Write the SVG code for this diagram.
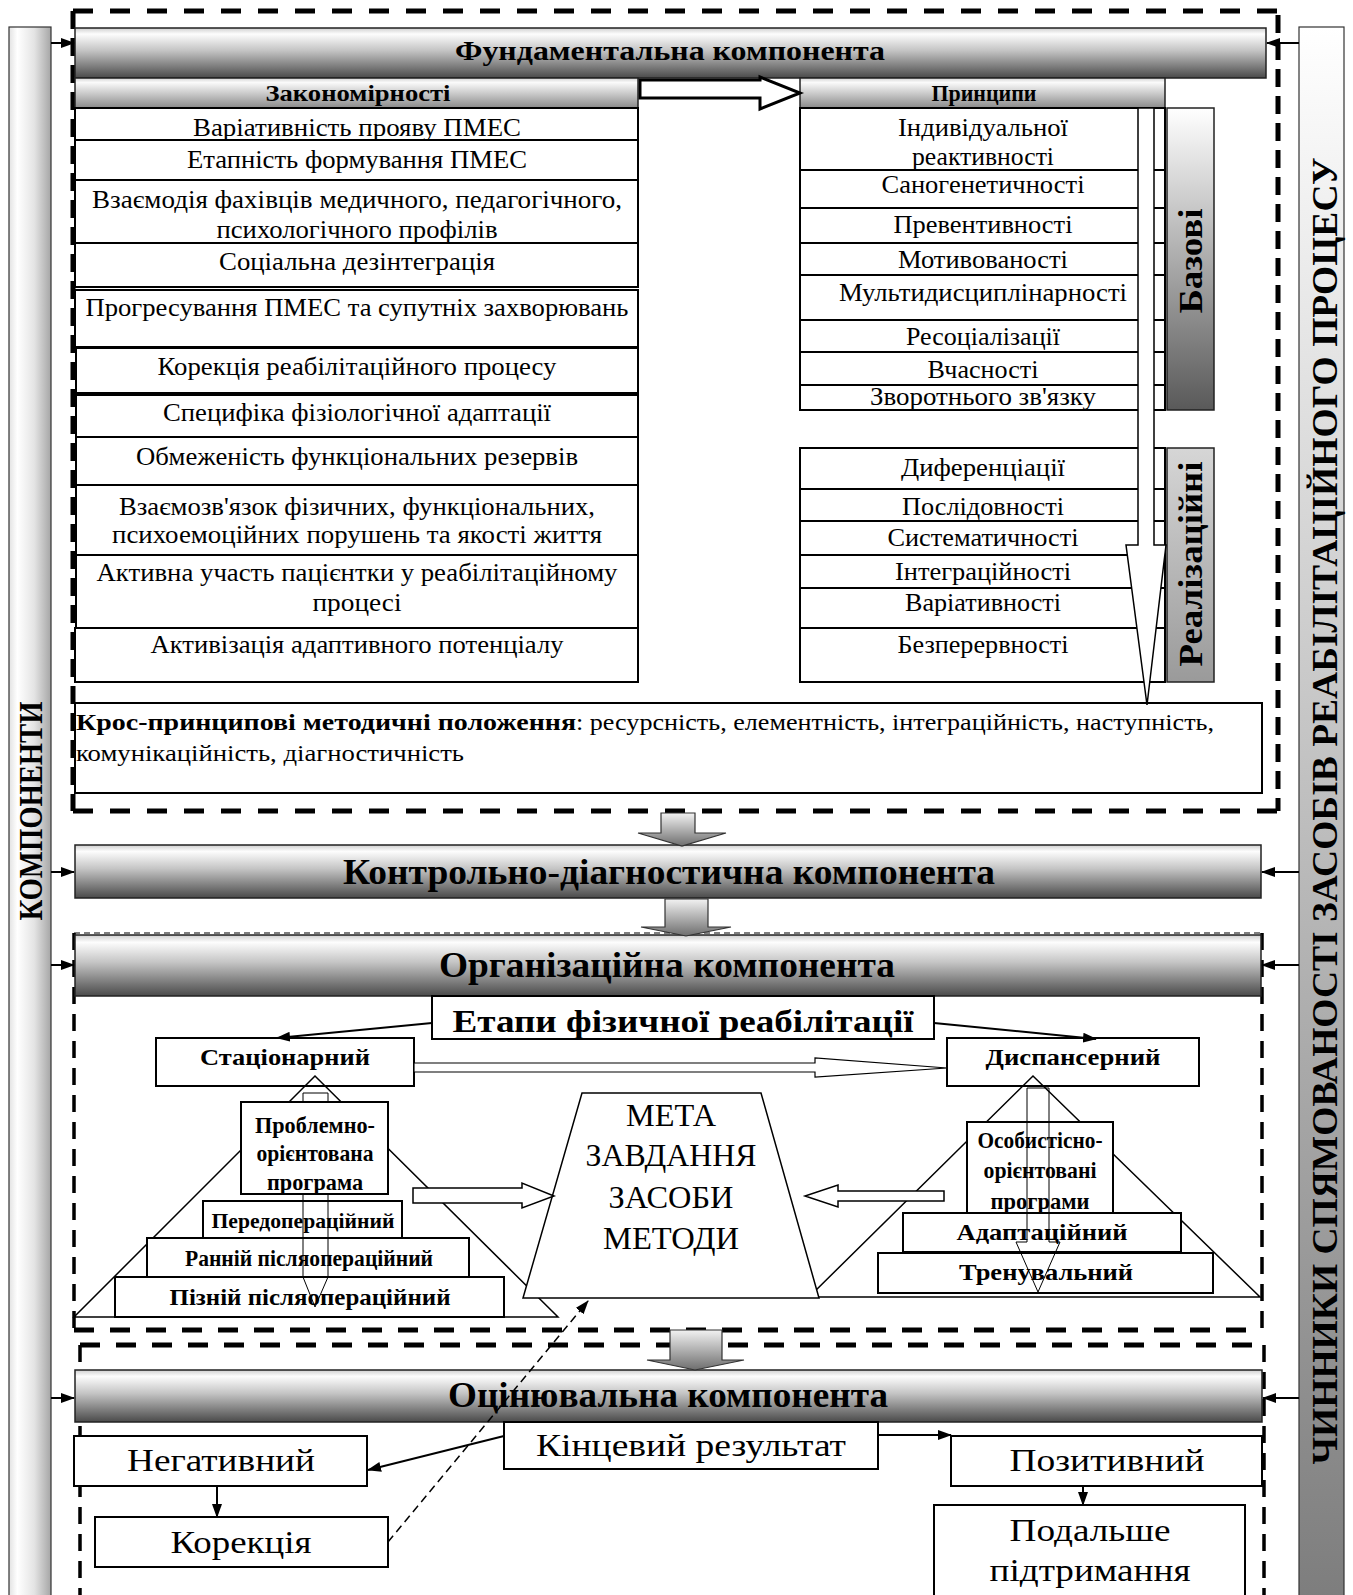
<svg xmlns="http://www.w3.org/2000/svg" width="1353" height="1595" viewBox="0 0 1353 1595">
<defs>
<linearGradient id="hdr" x1="0" y1="0" x2="0" y2="1"><stop offset="0" stop-color="#cfcfcf"/><stop offset="0.12" stop-color="#fdfdfd"/><stop offset="0.45" stop-color="#c4c4c4"/><stop offset="1" stop-color="#4a4a4a"/></linearGradient>
<linearGradient id="sub" x1="0" y1="0" x2="0" y2="1"><stop offset="0" stop-color="#d5d5d5"/><stop offset="0.15" stop-color="#fafafa"/><stop offset="1" stop-color="#8a8a8a"/></linearGradient>
<linearGradient id="baz" x1="0" y1="0" x2="0" y2="1"><stop offset="0" stop-color="#ffffff"/><stop offset="1" stop-color="#595959"/></linearGradient>
<linearGradient id="real" x1="0" y1="0" x2="0" y2="1"><stop offset="0" stop-color="#d6d6d6"/><stop offset="1" stop-color="#9a9a9a"/></linearGradient>
<linearGradient id="lbar" x1="0" y1="0" x2="1" y2="0"><stop offset="0" stop-color="#e2e2e2"/><stop offset="0.2" stop-color="#ffffff"/><stop offset="0.6" stop-color="#e4e4e4"/><stop offset="1" stop-color="#a6a6a6"/></linearGradient>
<linearGradient id="rbar" x1="0" y1="0" x2="0" y2="1"><stop offset="0" stop-color="#ffffff"/><stop offset="1" stop-color="#7d7d7d"/></linearGradient>
<linearGradient id="blk" x1="0" y1="0" x2="0" y2="1"><stop offset="0" stop-color="#f2f2f2"/><stop offset="1" stop-color="#6e6e6e"/></linearGradient>
<marker id="ah" markerWidth="14" markerHeight="10" refX="13" refY="5" orient="auto" markerUnits="userSpaceOnUse"><path d="M0,0 L14,5 L0,10 z" fill="#000"/></marker>
</defs>
<style>
.t{font-family:"Liberation Serif","Times New Roman","DejaVu Serif",serif;fill:#000;text-anchor:middle}
.l{text-anchor:start}
.b{font-weight:bold}
.f25{font-size:25px}
.f24{font-size:24px}
.f22{font-size:22px}
.f32{font-size:32px}
.f36{font-size:36px}
.box{fill:#fff;stroke:#000;stroke-width:2}
.hd{fill:url(#hdr);stroke:#222;stroke-width:1.5}
.sh{fill:url(#sub);stroke:#222;stroke-width:1.5}
.ln{fill:none;stroke:#000;stroke-width:1.5}
.thin{fill:none;stroke:#000;stroke-width:1}
.dk{fill:none;stroke:#000;stroke-width:5}
.dm{fill:none;stroke:#000;stroke-width:3.5}
.hol{fill:#fff;stroke:#000;stroke-width:1.5}
.con{fill:none;stroke:#000;stroke-width:2}
</style>

<g id="frames">
<line class="dk" x1="73" y1="11" x2="1278" y2="11" stroke-dasharray="20 17"/>
<line class="dk" x1="73" y1="11" x2="73" y2="811" stroke-dasharray="18 9"/>
<line class="dk" x1="1278" y1="15" x2="1278" y2="811" stroke-dasharray="18 9"/>
<line class="dk" x1="73" y1="811" x2="1278" y2="811" stroke-dasharray="20 17"/>
<line class="thin" x1="74" y1="933" x2="1262" y2="933" stroke-dasharray="6 4" stroke-width="2"/>
<line class="dm" x1="74" y1="933" x2="74" y2="1330" stroke-dasharray="17 10"/>
<line class="dm" x1="1262" y1="933" x2="1262" y2="1330" stroke-dasharray="17 10"/>
<line class="dk" x1="74" y1="1330" x2="1262" y2="1330" stroke-dasharray="20 16"/>
<line class="dk" x1="80" y1="1345" x2="1264" y2="1345" stroke-dasharray="20 16"/>
<line class="dm" x1="80" y1="1345" x2="80" y2="1595" stroke-dasharray="17 10"/>
<line class="dm" x1="1264" y1="1345" x2="1264" y2="1595" stroke-dasharray="17 10"/>
</g>

<g id="bar-left">
<rect x="9" y="27" width="42" height="1575" fill="url(#lbar)" stroke="#333" stroke-width="1.2"/>
<text class="t b" font-size="34" textLength="219" lengthAdjust="spacingAndGlyphs" transform="translate(42,811) rotate(-90)">КОМПОНЕНТИ</text>
</g>
<g id="bar-right">
<rect x="1299" y="27" width="45" height="1575" fill="url(#rbar)" stroke="#333" stroke-width="1.2"/>
<text class="t b" font-size="36" textLength="1307" lengthAdjust="spacingAndGlyphs" transform="translate(1337,811) rotate(-90)">ЧИННИКИ СПЯМОВАНОСТІ ЗАСОБІВ РЕАБІЛІТАЦІЙНОГО ПРОЦЕСУ</text>
</g>

<g id="fund-header">
<rect class="hd" x="75" y="28" width="1191" height="50"/>
<text class="t b" font-size="28" x="670" y="60" textLength="430" lengthAdjust="spacingAndGlyphs">Фундаментальна компонента</text>
</g>

<g id="zakonomirnosti">
<rect class="sh" x="75" y="78" width="563" height="30"/>
<text class="t b f24" x="358" y="101" textLength="185" lengthAdjust="spacingAndGlyphs">Закономірності</text>
<rect class="box" x="75" y="108" width="563" height="32"/>
<text class="t f25" x="357" y="136" textLength="328" lengthAdjust="spacingAndGlyphs">Варіативність прояву ПМЕС</text>
<rect class="box" x="75" y="140" width="563" height="40"/>
<text class="t f25" x="357" y="168" textLength="340" lengthAdjust="spacingAndGlyphs">Етапність формування ПМЕС</text>
<rect class="box" x="75" y="180" width="563" height="63"/>
<text class="t f25" x="357" y="208" textLength="530" lengthAdjust="spacingAndGlyphs">Взаємодія фахівців медичного, педагогічного,</text>
<text class="t f25" x="357" y="238" textLength="281" lengthAdjust="spacingAndGlyphs">психологічного профілів</text>
<rect class="box" x="75" y="243" width="563" height="44"/>
<text class="t f25" x="357" y="270" textLength="276" lengthAdjust="spacingAndGlyphs">Соціальна дезінтеграція</text>
<rect class="box" x="75" y="290" width="563" height="57"/>
<text class="t f25" x="357" y="316" textLength="543" lengthAdjust="spacingAndGlyphs">Прогресування ПМЕС та супутніх захворювань</text>
<rect class="box" x="76" y="348" width="562" height="45"/>
<text class="t f25" x="357" y="375" textLength="399" lengthAdjust="spacingAndGlyphs">Корекція реабілітаційного процесу</text>
<rect class="box" x="76" y="395" width="562" height="42"/>
<text class="t f25" x="357" y="421" textLength="388" lengthAdjust="spacingAndGlyphs">Специфіка фізіологічної адаптації</text>
<rect class="box" x="76" y="437" width="562" height="48"/>
<text class="t f25" x="357" y="465" textLength="442" lengthAdjust="spacingAndGlyphs">Обмеженість функціональних резервів</text>
<rect class="box" x="76" y="485" width="562" height="70"/>
<text class="t f25" x="357" y="515" textLength="476" lengthAdjust="spacingAndGlyphs">Взаємозв'язок фізичних, функціональних,</text>
<text class="t f25" x="357" y="543" textLength="490" lengthAdjust="spacingAndGlyphs">психоемоційних порушень та якості життя</text>
<rect class="box" x="76" y="555" width="562" height="73"/>
<text class="t f25" x="357" y="581" textLength="521" lengthAdjust="spacingAndGlyphs">Активна участь пацієнтки у реабілітаційному</text>
<text class="t f25" x="357" y="611" textLength="89" lengthAdjust="spacingAndGlyphs">процесі</text>
<rect class="box" x="75" y="628" width="563" height="54"/>
<text class="t f25" x="357" y="653" textLength="413" lengthAdjust="spacingAndGlyphs">Активізація адаптивного потенціалу</text>
</g>

<g id="pryntsypy">
<rect class="sh" x="800" y="78" width="365" height="30"/>
<text class="t b f24" x="984" y="101" textLength="105" lengthAdjust="spacingAndGlyphs">Принципи</text>
<rect class="box" x="800" y="108" width="365" height="62"/>
<text class="t f25" x="983" y="136" textLength="170" lengthAdjust="spacingAndGlyphs">Індивідуальної</text>
<text class="t f25" x="983" y="165" textLength="142" lengthAdjust="spacingAndGlyphs">реактивності</text>
<rect class="box" x="800" y="170" width="365" height="38"/>
<text class="t f25" x="983" y="193" textLength="203" lengthAdjust="spacingAndGlyphs">Саногенетичності</text>
<rect class="box" x="800" y="208" width="365" height="35"/>
<text class="t f25" x="983" y="233" textLength="179" lengthAdjust="spacingAndGlyphs">Превентивності</text>
<rect class="box" x="800" y="243" width="365" height="32"/>
<text class="t f25" x="983" y="268" textLength="170" lengthAdjust="spacingAndGlyphs">Мотивованості</text>
<rect class="box" x="800" y="275" width="365" height="45"/>
<text class="t f25" x="983" y="301" textLength="288" lengthAdjust="spacingAndGlyphs">Мультидисциплінарності</text>
<rect class="box" x="800" y="320" width="365" height="32"/>
<text class="t f25" x="983" y="345" textLength="154" lengthAdjust="spacingAndGlyphs">Ресоціалізації</text>
<rect class="box" x="800" y="352" width="365" height="33"/>
<text class="t f25" x="983" y="378" textLength="111" lengthAdjust="spacingAndGlyphs">Вчасності</text>
<rect class="box" x="800" y="385" width="365" height="25"/>
<text class="t f25" x="983" y="405" textLength="226" lengthAdjust="spacingAndGlyphs">Зворотнього зв'язку</text>
<rect class="box" x="800" y="448" width="365" height="41"/>
<text class="t f25" x="983" y="476" textLength="164" lengthAdjust="spacingAndGlyphs">Диференціації</text>
<rect class="box" x="800" y="489" width="365" height="32"/>
<text class="t f25" x="983" y="515" textLength="162" lengthAdjust="spacingAndGlyphs">Послідовності</text>
<rect class="box" x="800" y="521" width="365" height="34"/>
<text class="t f25" x="983" y="546" textLength="191" lengthAdjust="spacingAndGlyphs">Систематичності</text>
<rect class="box" x="800" y="555" width="365" height="33"/>
<text class="t f25" x="983" y="580" textLength="176" lengthAdjust="spacingAndGlyphs">Інтеграційності</text>
<rect class="box" x="800" y="588" width="365" height="40"/>
<text class="t f25" x="983" y="611" textLength="156" lengthAdjust="spacingAndGlyphs">Варіативності</text>
<rect class="box" x="800" y="628" width="365" height="54"/>
<text class="t f25" x="983" y="653" textLength="171" lengthAdjust="spacingAndGlyphs">Безперервності</text>
</g>

<g id="bazovi">
<rect x="1167" y="108" width="47" height="302" fill="url(#baz)" stroke="#222" stroke-width="1.5"/>
<text class="t b" font-size="34" textLength="105" lengthAdjust="spacingAndGlyphs" transform="translate(1202,261) rotate(-90)">Базові</text>
</g>
<g id="realizatsiyni">
<rect x="1167" y="448" width="47" height="234" fill="url(#real)" stroke="#222" stroke-width="1.5"/>
<text class="t b" font-size="34" textLength="205" lengthAdjust="spacingAndGlyphs" transform="translate(1202,564) rotate(-90)">Реалізаційні</text>
</g>

<g id="cross">
<rect class="box" x="75" y="703" width="1187" height="90" stroke-width="1.5"/>
<text class="t l b f24" x="76" y="730" textLength="500" lengthAdjust="spacingAndGlyphs">Крос-принципові методичні  положення</text>
<text class="t l f24" x="576" y="730" textLength="638" lengthAdjust="spacingAndGlyphs">: ресурсність, елементність, інтеграційність, наступність,</text>
<text class="t l f24" x="76" y="761" textLength="388" lengthAdjust="spacingAndGlyphs">комунікаційність, діагностичність</text>
</g>

<g id="control-header">
<rect class="hd" x="75" y="845" width="1186" height="53"/>
<text class="t b f36" x="669" y="884" textLength="652" lengthAdjust="spacingAndGlyphs">Контрольно-діагностична компонента</text>
</g>

<g id="org-header">
<rect class="hd" x="75" y="935" width="1186" height="61"/>
<text class="t b f36" x="667" y="977" textLength="456" lengthAdjust="spacingAndGlyphs">Організаційна компонента</text>
</g>

<g id="etapy">
<rect class="box" x="432" y="996" width="502" height="43"/>
<text class="t b f32" x="683" y="1032" textLength="461" lengthAdjust="spacingAndGlyphs">Етапи фізичної реабілітації</text>
</g>
<g id="statsionarnyi">
<rect class="box" x="156" y="1038" width="258" height="48"/>
<text class="t b f24" x="285" y="1065" textLength="170" lengthAdjust="spacingAndGlyphs">Стаціонарний</text>
</g>
<g id="dyspansernyi">
<rect class="box" x="947" y="1038" width="252" height="48"/>
<text class="t b f24" x="1073" y="1065" textLength="175" lengthAdjust="spacingAndGlyphs">Диспансерний</text>
</g>

<g id="pyramid-left">
<polygon points="315,1076 74,1317 558,1317" class="ln"/>
<rect class="box" x="203" y="1201" width="199" height="37"/>
<text class="t b f22" x="303" y="1228" textLength="183" lengthAdjust="spacingAndGlyphs">Передопераційний</text>
<rect class="box" x="147" y="1238" width="322" height="39"/>
<text class="t b f24" x="309" y="1266" textLength="248" lengthAdjust="spacingAndGlyphs">Ранній післяопераційний</text>
<rect class="box" x="115" y="1277" width="389" height="40"/>
<text class="t b f24" x="310" y="1305" textLength="281" lengthAdjust="spacingAndGlyphs">Пізній післяопераційний</text>
<polyline class="thin" points="303,1093 303,1277 315,1307 328,1277 328,1093 303,1093"/>
<rect class="box" x="241" y="1102" width="147" height="92"/>
<text class="t b f24" x="315" y="1133" textLength="120" lengthAdjust="spacingAndGlyphs">Проблемно-</text>
<text class="t b f24" x="315" y="1161" textLength="117" lengthAdjust="spacingAndGlyphs">орієнтована</text>
<text class="t b f24" x="315" y="1190" textLength="96" lengthAdjust="spacingAndGlyphs">програма</text>
</g>

<g id="pyramid-right">
<polygon points="1033,1076 809,1297 1260,1297" class="ln"/>
<rect class="box" x="903" y="1213" width="278" height="39"/>
<text class="t b f24" x="1042" y="1240" textLength="171" lengthAdjust="spacingAndGlyphs">Адаптаційний</text>
<rect class="box" x="878" y="1253" width="335" height="40"/>
<text class="t b f24" x="1046" y="1280" textLength="174" lengthAdjust="spacingAndGlyphs">Тренувальний</text>
<rect class="box" x="967" y="1122" width="146" height="91"/>
<text class="t b f24" x="1040" y="1148" textLength="125" lengthAdjust="spacingAndGlyphs">Особистісно-</text>
<text class="t b f24" x="1040" y="1178" textLength="113" lengthAdjust="spacingAndGlyphs">орієнтовані</text>
<text class="t b f24" x="1040" y="1209" textLength="99" lengthAdjust="spacingAndGlyphs">програми</text>
<polyline class="thin" points="1027,1088 1027,1242 1016,1242 1038,1292 1060,1242 1049,1242 1049,1088 1027,1088"/>
</g>

<g id="meta">
<polygon points="582,1093 761,1093 819,1298 523,1298" class="hol"/>
<text class="t" font-size="31" x="671" y="1126" textLength="90" lengthAdjust="spacingAndGlyphs">МЕТА</text>
<text class="t" font-size="31" x="671" y="1166" textLength="171" lengthAdjust="spacingAndGlyphs">ЗАВДАННЯ</text>
<text class="t" font-size="31" x="671" y="1208" textLength="125" lengthAdjust="spacingAndGlyphs">ЗАСОБИ</text>
<text class="t" font-size="31" x="671" y="1249" textLength="136" lengthAdjust="spacingAndGlyphs">МЕТОДИ</text>
</g>

<g id="eval-header">
<rect class="hd" x="75" y="1370" width="1187" height="52"/>
<text class="t b f36" x="668" y="1407" textLength="440" lengthAdjust="spacingAndGlyphs">Оцінювальна компонента</text>
</g>
<g id="kintsevyi">
<rect class="box" x="504" y="1422" width="374" height="47"/>
<text class="t f32" x="691" y="1456" textLength="310" lengthAdjust="spacingAndGlyphs">Кінцевий результат</text>
</g>
<g id="negatyvnyi">
<rect class="box" x="74" y="1436" width="293" height="50"/>
<text class="t f32" x="221" y="1471" textLength="188" lengthAdjust="spacingAndGlyphs">Негативний</text>
</g>
<g id="korektsiia">
<rect class="box" x="95" y="1517" width="293" height="50"/>
<text class="t f32" x="241" y="1553" textLength="141" lengthAdjust="spacingAndGlyphs">Корекція</text>
</g>
<g id="pozytyvnyi">
<rect class="box" x="951" y="1436" width="311" height="50"/>
<text class="t f32" x="1107" y="1471" textLength="195" lengthAdjust="spacingAndGlyphs">Позитивний</text>
</g>
<g id="podalshe">
<rect class="box" x="934" y="1505" width="311" height="100"/>
<text class="t f32" x="1090" y="1541" textLength="161" lengthAdjust="spacingAndGlyphs">Подальше</text>
<text class="t f32" x="1090" y="1581" textLength="201" lengthAdjust="spacingAndGlyphs">підтримання</text>
</g>

<g id="connectors">
<polygon points="640,80 760,80 760,77 800,93 760,109 760,98 640,98" fill="#fff" stroke="#000" stroke-width="3"/>
<polygon points="1138,108 1154,108 1154,545 1166,545 1147,705 1126,545 1138,545" class="hol"/>
<polygon points="661,813 695,813 695,833 726,833 682,846 638,833 661,833" fill="url(#blk)" stroke="#333" stroke-width="1.2"/>
<polygon points="665,899 708,899 708,927 731,927 686,936 641,927 665,927" fill="url(#blk)" stroke="#333" stroke-width="1.2"/>
<polygon points="670,1330 722,1330 722,1360 744,1360 695,1370 647,1360 670,1360" fill="url(#blk)" stroke="#333" stroke-width="1.2"/>
<line class="con" x1="51" y1="43" x2="74" y2="43" marker-end="url(#ah)"/>
<line class="con" x1="51" y1="872" x2="74" y2="872" marker-end="url(#ah)"/>
<line class="con" x1="51" y1="965" x2="74" y2="965" marker-end="url(#ah)"/>
<line class="con" x1="51" y1="1398" x2="74" y2="1398" marker-end="url(#ah)"/>
<line class="con" x1="1299" y1="43" x2="1267" y2="43" marker-end="url(#ah)"/>
<line class="con" x1="1299" y1="872" x2="1262" y2="872" marker-end="url(#ah)"/>
<line class="con" x1="1299" y1="965" x2="1262" y2="965" marker-end="url(#ah)"/>
<line class="con" x1="1299" y1="1398" x2="1263" y2="1398" marker-end="url(#ah)"/>
<line class="con" x1="432" y1="1023" x2="277" y2="1038" marker-end="url(#ah)"/>
<line class="con" x1="934" y1="1023" x2="1096" y2="1039" marker-end="url(#ah)"/>
<polygon points="414,1063 815,1063 815,1058 947,1068 815,1077 815,1072 414,1072" fill="#fff" stroke="#000" stroke-width="1.2"/>
<polygon points="413,1188 522,1188 522,1183 554,1196 522,1208 522,1203 413,1203" class="hol"/>
<polygon points="944,1191 838,1191 838,1185 805,1196 838,1207 838,1201 944,1201" class="hol"/>
<line class="con" x1="504" y1="1436" x2="368" y2="1470" marker-end="url(#ah)"/>
<line class="con" x1="217" y1="1486" x2="217" y2="1517" marker-end="url(#ah)"/>
<line class="con" x1="878" y1="1435" x2="951" y2="1435" marker-end="url(#ah)"/>
<line class="con" x1="1083" y1="1486" x2="1083" y2="1505" marker-end="url(#ah)"/>
<line x1="388" y1="1542" x2="588" y2="1301" stroke="#000" stroke-width="1.5" stroke-dasharray="8 5" marker-end="url(#ah)"/>
</g>
</svg>
